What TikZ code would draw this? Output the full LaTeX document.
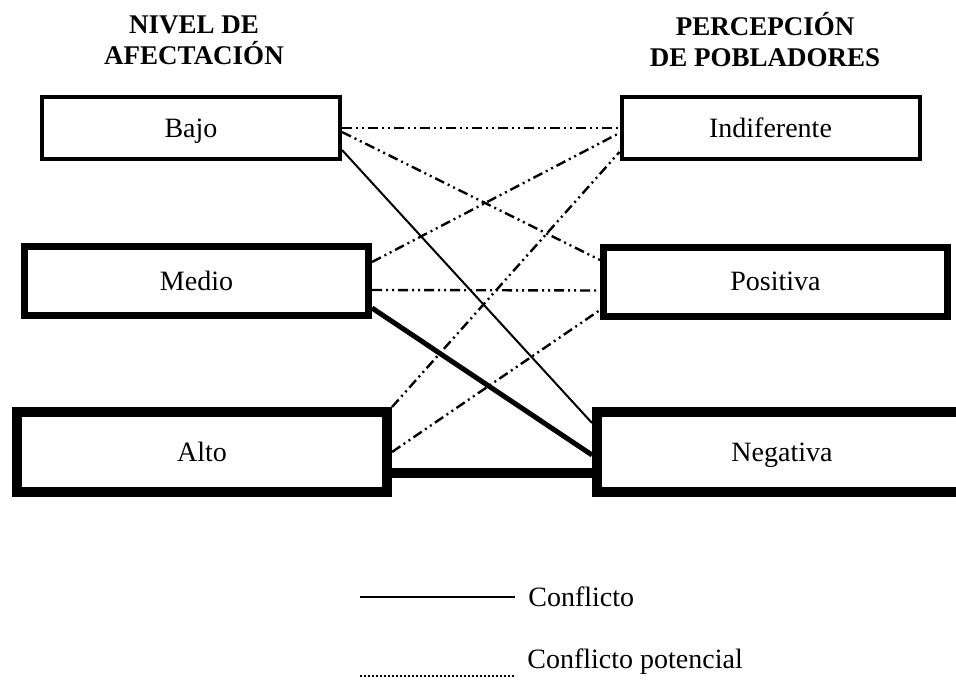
\documentclass[tikz,border=0pt]{standalone}
\usepackage{fontspec}
\setmainfont{Liberation Serif}
\usetikzlibrary{positioning}

\begin{document}
\begin{tikzpicture}[x=0.5pt,y=-0.5pt,
  caja/.style={draw,rectangle,inner sep=0pt,text height=12pt,text depth=2.7pt,font=\fontsize{14}{16}\selectfont},
  cajaA/.style={caja,line width=2pt,minimum width=149pt,minimum height=31pt},
  cajaB/.style={caja,line width=3.5pt,minimum width=172pt,minimum height=34.5pt},
  cajaC/.style={caja,line width=5pt,minimum width=185pt,minimum height=40pt},
  titulo/.style={align=center,font=\fontsize{13.5}{15.5}\selectfont\bfseries},
  leyenda/.style={anchor=west,inner sep=0pt,font=\fontsize{14}{16}\selectfont},
  potencial/.style={line width=1.2pt,dash pattern=on 5pt off 2pt on 1pt off 2pt on 1pt off 2pt},
  conflicto/.style={line width=1pt}]
\useasboundingbox (0,0) rectangle (956,679);

\node[titulo] (nivel) at (194,40) {NIVEL DE\\AFECTACIÓN};
\node[titulo] (percep) at (765,40) {PERCEPCIÓN\\DE POBLADORES};

\node[cajaA] (bajo) at (191,128) {Bajo};
\node[cajaB] (medio) at (196.5,281) {Medio};
\node[cajaC] (alto) at (202,452) {Alto};

\node[cajaA] (indif) at (770.5,128) {Indiferente};
\node[cajaB] (positiva) at (775.5,281.5) {Positiva};
\node[cajaC] (negativa) at (782,452) {Negativa};

% relaciones
\draw[potencial] (bajo.east) -- (indif.west);
\draw[potencial] ([yshift=-2pt]bajo.east) -- ([yshift=10.75pt]positiva.west);
\draw[conflicto] ([yshift=-11pt]bajo.east) -- ([yshift=14.5pt]negativa.west);

\draw[potencial] ([yshift=9.5pt]medio.east) -- ([yshift=-2.5pt]indif.west);
\draw[potencial] ([yshift=-4.5pt]medio.east) -- ([yshift=-4.5pt]positiva.west);
\draw[conflicto,line width=2.5pt] ([yshift=-13.5pt]medio.east) -- ([yshift=-1.5pt]negativa.west);

\draw[potencial] (alto.north east) -- ([yshift=-12pt]indif.west);
\draw[potencial] (alto.east) -- ([yshift=-14.25pt]positiva.west);
\draw[conflicto,line width=5pt] ([yshift=-10.5pt]alto.east) -- ([yshift=-10.5pt]negativa.west);

% leyenda
\coordinate (l1a) at (360,597);
\coordinate (l1b) at (515,597);
\coordinate (l2a) at (360,676);
\coordinate (l2b) at (515,676);
\draw[conflicto,line width=1.2pt] (l1a) -- (l1b);
\draw[line width=1.2pt,dash pattern=on 1pt off 1pt] (l2a) -- (l2b);
\node[leyenda] (ley1) at (528,597) {Conflicto};
\node[leyenda] (ley2) at (527,662) {Conflicto potencial};
\end{tikzpicture}
\end{document}
